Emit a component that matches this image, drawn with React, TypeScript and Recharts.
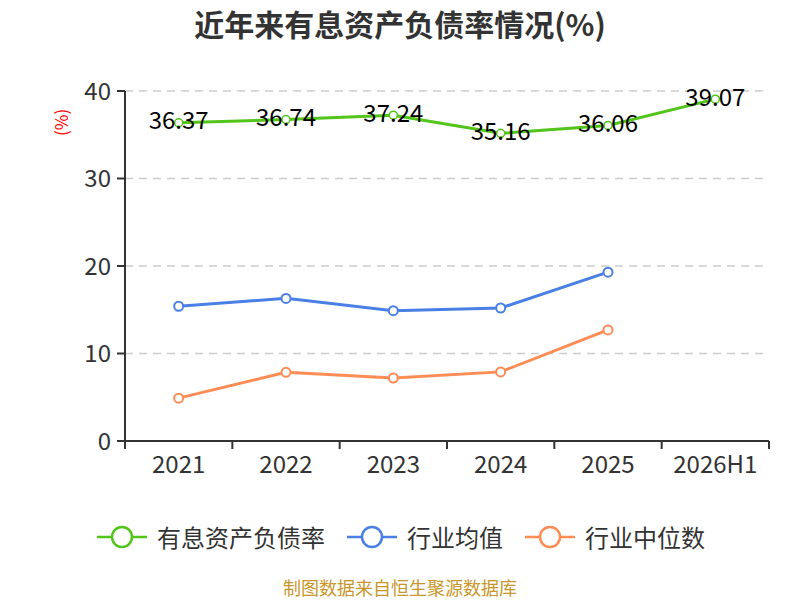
import React from "react";
import {
  LineChart,
  Line,
  XAxis,
  YAxis,
  CartesianGrid,
  LabelList,
} from "recharts";

const years = ["2021", "2022", "2023", "2024", "2025", "2026H1"];
const debtRatio = [36.37, 36.74, 37.24, 35.16, 36.06, 39.07];
const industryAvg = [15.4, 16.3, 14.9, 15.2, 19.3, null];
const industryMedian = [4.9, 7.85, 7.2, 7.9, 12.7, null];
const yTicks = [0, 10, 20, 30, 40];

const GREEN = "#52c41a";
const BLUE = "#4a80e6";
const ORANGE = "#ff8c55";
const FONT = "'Noto Sans CJK SC', 'Noto Sans', sans-serif";

// x runs 0..n, each category sits in the middle of its band
const data = years.map((y, i) => ({
  x: i + 0.5,
  year: y,
  debt: debtRatio[i],
  avg: industryAvg[i],
  median: industryMedian[i],
}));

const xTicks: number[] = [];
for (let i = 0; i <= years.length * 2; i++) xTicks.push(i / 2);

const XTick = (props: any) => {
  const { x, y, payload } = props;
  const v = payload.value as number;
  if (Number.isInteger(v)) {
    return <line x1={x} x2={x} y1={y - 8} y2={y} stroke="#333" strokeWidth={2} />;
  }
  const label = years[Math.floor(v)];
  return (
    <text x={x} y={y + 24} textAnchor="middle" fill="#333" fontSize={24} fontFamily={FONT}>
      {label}
    </text>
  );
};

const legendItems = [
  { name: "有息资产负债率", color: GREEN },
  { name: "行业均值", color: BLUE },
  { name: "行业中位数", color: ORANGE },
];

export default function App() {
  return (
    <div style={{ position: "absolute", left: 0, top: 0, width: 800, height: 600, background: "#fff", fontFamily: FONT }}>
      <div style={{ position: "absolute", top: 2, left: 0, width: 800, textAlign: "center", fontSize: 30, fontWeight: "bold", color: "#333", lineHeight: "42px" }}>
        近年来有息资产负债率情况(%)
      </div>
      <LineChart width={800} height={560} data={data} margin={{ top: 91, right: 31, left: 0, bottom: 0 }}>
        <CartesianGrid horizontal vertical={false} stroke="#ccc" strokeDasharray="8 6" strokeWidth={1.5} />
        <XAxis
          dataKey="x"
          type="number"
          domain={[0, years.length]}
          ticks={xTicks}
          interval={0}
          tickLine={false}
          axisLine={{ stroke: "#333", strokeWidth: 2 }}
          tick={<XTick />}
          height={119}
        />
        <YAxis
          domain={[0, 40]}
          ticks={yTicks}
          width={125}
          axisLine={{ stroke: "#333", strokeWidth: 2 }}
          tickLine={{ stroke: "#333", strokeWidth: 2 }}
          tickSize={8}
          tick={{ fill: "#333", fontSize: 24, fontFamily: FONT, dx: -4 }}
          label={{ value: "(%)", angle: -90, position: "insideTopLeft", dx: 51, dy: 40, fill: "red", fontSize: 17, fontFamily: FONT }}
        />
        <Line
          dataKey="debt"
          stroke={GREEN}
          strokeWidth={3}
          dot={{ r: 4, fill: "#fff", stroke: GREEN, strokeWidth: 1.5 }}
          isAnimationActive={false}
        >
          <LabelList dataKey="debt" position="center" dy={-2} fill="#000" fontSize={24} fontFamily={FONT} />
        </Line>
        <Line
          dataKey="avg"
          stroke={BLUE}
          strokeWidth={3}
          dot={{ r: 4.5, fill: "#fff", stroke: BLUE, strokeWidth: 2 }}
          isAnimationActive={false}
        />
        <Line
          dataKey="median"
          stroke={ORANGE}
          strokeWidth={3}
          dot={{ r: 4.5, fill: "#fff", stroke: ORANGE, strokeWidth: 2 }}
          isAnimationActive={false}
        />
      </LineChart>
      <div style={{ position: "absolute", top: 520, left: 97, height: 34, display: "flex", alignItems: "center", fontSize: 24, color: "#333" }}>
        {legendItems.map((it, i) => (
          <div key={it.name} style={{ display: "flex", alignItems: "center", marginRight: i < 2 ? 22 : 0 }}>
            <svg width={50} height={24} style={{ marginRight: 10 }}>
              <line x1={0} x2={50} y1={12} y2={12} stroke={it.color} strokeWidth={2.5} />
              <circle cx={25} cy={12} r={10} fill="#fff" stroke={it.color} strokeWidth={2.5} />
            </svg>
            <span style={{ lineHeight: "30px" }}>{it.name}</span>
          </div>
        ))}
      </div>
      <div style={{ position: "absolute", top: 577, left: 0, width: 800, textAlign: "center", fontSize: 18, color: "#c8962a", lineHeight: "20px" }}>
        制图数据来自恒生聚源数据库
      </div>
    </div>
  );
}
